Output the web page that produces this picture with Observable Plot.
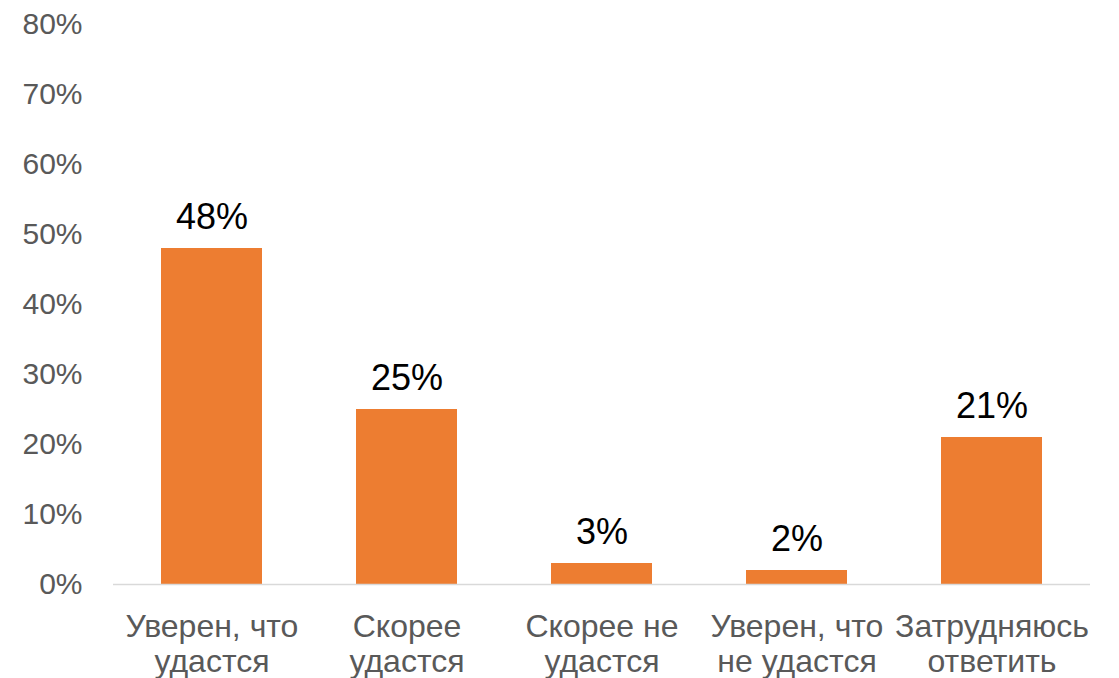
<!DOCTYPE html>
<html>
<head>
<meta charset="utf-8">
<script src="https://cdn.jsdelivr.net/npm/d3@7"></script>
<script src="https://cdn.jsdelivr.net/npm/@observablehq/plot@0.6"></script>
<style>
  html, body { margin: 0; padding: 0; background: #fff; }
</style>
</head>
<body>
<div id="chart"></div>
<script>
const categories = [
  "Уверен, что\nудастся",
  "Скорее\nудастся",
  "Скорее не\nудастся",
  "Уверен, что\nне удастся",
  "Затрудняюсь\nответить"
];
const values = [48, 25, 3, 2, 21];
const yTicks = [0, 10, 20, 30, 40, 50, 60, 70, 80];

const data = categories.map((c, i) => ({cat: c, val: values[i]}));

const chart = Plot.plot({
  width: 1119,
  height: 678,
  marginLeft: 113,
  marginRight: 29,
  marginTop: 24,
  marginBottom: 94,
  style: {fontFamily: "'Liberation Sans', Arial, sans-serif", background: "#fff"},
  x: {domain: categories, paddingInner: 0.48, paddingOuter: 0.24},
  y: {domain: [0, 80]},
  marks: [
    Plot.axisY(yTicks, {tickSize: 0, tickPadding: 31, tickFormat: d => d + "%", fontSize: 30, fill: "#595959", label: null}),
    Plot.axisX({tickSize: 0, tickPadding: 27, fontSize: 32, lineHeight: 1.1, fill: "#595959", label: null}),
    Plot.barY(data, {x: "cat", y: "val", fill: "#ED7D31"}),
    Plot.ruleY([0], {stroke: "#d9d9d9", strokeWidth: 1.5}),
    Plot.text(data, {x: "cat", y: "val", text: d => d.val + "%", dy: -20, lineAnchor: "bottom", fontSize: 36, fill: "#000"})
  ]
});
document.getElementById("chart").appendChild(chart);
</script>
</body>
</html>
